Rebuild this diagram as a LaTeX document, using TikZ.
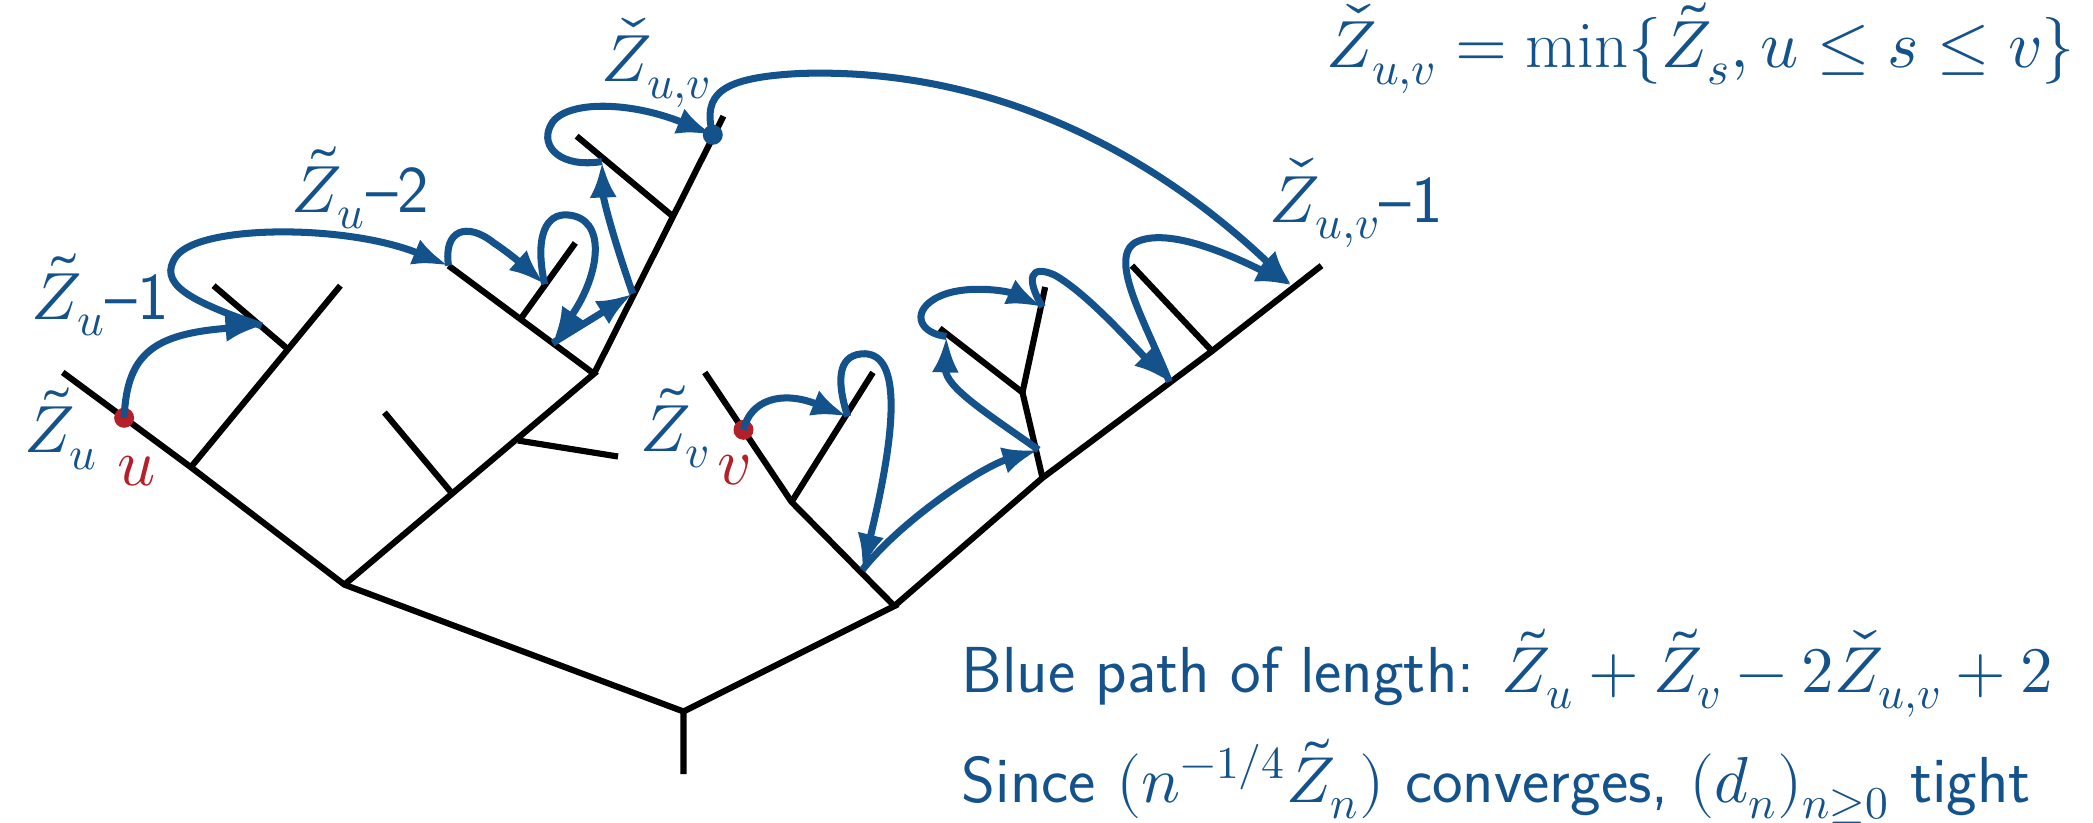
\documentclass[tikz,border=0pt]{standalone}
\usepackage{unicode-math}
\usetikzlibrary{arrows.meta}
\definecolor{zblue}{RGB}{20,82,140}
\definecolor{zred}{RGB}{180,32,40}
\tikzset{
  branch/.style={line width=1.75pt, black},
  walk/.style={line width=2pt, zblue, -{Latex[length=3.6mm,width=2.7mm]}},
  lbl/.style={text=zblue, inner sep=0pt, font=\fontsize{19}{23}\selectfont},
  txt/.style={text=zblue, inner sep=0pt, anchor=base west, font=\fontsize{18.5}{22}\selectfont\sffamily},
  site/.style={circle, inner sep=0pt, minimum size=2mm}
}

\begin{document}
\begin{tikzpicture}[x={(0.13348mm,0)}, y={(0,-0.13348mm)}]
\useasboundingbox (0,0) rectangle (1568,616);

% Tree points
\coordinate (rb) at (512,580);
\coordinate (R) at (512,533);
\coordinate (A) at (258,438);
\coordinate (B) at (670,454);
\coordinate (C) at (143,350);
\coordinate (cl) at (47,279);
\coordinate (cr) at (255,214);
\coordinate (D) at (215,261);
\coordinate (dl) at (160,214);
\coordinate (H1) at (339,370);
\coordinate (h1) at (288,309);
\coordinate (H2) at (388,330);
\coordinate (h2) at (463,342);
\coordinate (E) at (445,280);
\coordinate (el) at (336,199);
\coordinate (J) at (390,239);
\coordinate (jr) at (431,182);
\coordinate (F) at (542,87);
\coordinate (K) at (504,162);
\coordinate (kl) at (432,102);
\coordinate (G) at (593,376);
\coordinate (gl) at (528,279);
\coordinate (gr) at (654,279);
\coordinate (M) at (781,358);
\coordinate (N) at (908,263);
\coordinate (T) at (990,199);
\coordinate (O) at (766,294);
\coordinate (ol) at (704,246);
\coordinate (or) at (783,215);
\coordinate (nl) at (848,199);

% Tree
\draw[branch] (rb) -- (R) -- (A) -- (C) -- (cl);
\draw[branch] (R) -- (B) -- (G) -- (gl);
\draw[branch] (C) -- (cr);
\draw[branch] (D) -- (dl);
\draw[branch] (A) -- (E) -- (el);
\draw[branch] (H1) -- (h1);
\draw[branch] (H2) -- (h2);
\draw[branch] (J) -- (jr);
\draw[branch] (E) -- (F);
\draw[branch] (K) -- (kl);
\draw[branch] (G) -- (gr);
\draw[branch] (B) -- (M) -- (N) -- (T);
\draw[branch] (M) -- (O) -- (ol);
\draw[branch] (O) -- (or);
\draw[branch] (N) -- (nl);

% Sites
\node[site, fill=zred] (u) at (93,313) {};
\node[site, fill=zred] (v) at (557,322) {};
\node[site, fill=zblue] (uv) at (534,101) {};

% Stops of the walk
\coordinate (s1) at (196,244);
\coordinate (s2) at (336,199);
\coordinate (s3) at (408,213);
\coordinate (s4) at (414,257);
\coordinate (s5) at (474,220);
\coordinate (s6) at (451,121);
\coordinate (s7) at (968,214);
\coordinate (w1) at (635,312);
\coordinate (w2) at (646,427);
\coordinate (w3) at (778,337);
\coordinate (w4) at (709,252);
\coordinate (w5) at (781,230);
\coordinate (w6) at (876,286);

% Walk from u
\draw[walk] (u.center) .. controls (95,265) and (115,250) .. (s1);
\draw[walk] (s1) .. controls (140,225) and (118,212) .. (132,192) .. controls (150,168) and (260,168) .. (s2);
\draw[walk] (s2) .. controls (332,172) and (350,166) .. (370,182) .. controls (385,192) and (398,204) .. (s3);
\draw[walk] (s3) .. controls (400,175) and (410,160) .. (425,161) .. controls (455,163) and (450,205) .. (s4);
\draw[walk] (s4) -- (s5);
\draw[walk] (s5) .. controls (460,180) and (452,150) .. (s6);
\draw[walk] (s6) .. controls (420,126) and (405,110) .. (412,95) .. controls (420,75) and (470,75) .. (uv.center);
\draw[walk] (uv.center) .. controls (526,70) and (540,58) .. (600,55) .. controls (760,50) and (880,130) .. (s7);

% Walk from v
\draw[walk] (v.center) .. controls (562,300) and (585,292) .. (w1);
\draw[walk] (w1) .. controls (625,280) and (630,265) .. (648,265) .. controls (675,266) and (672,320) .. (w2);
\draw[walk] (w2) .. controls (675,390) and (735,350) .. (w3);
\draw[walk] (w3) .. controls (740,310) and (708,290) .. (w4);
\draw[walk] (w4) .. controls (690,250) and (682,235) .. (700,224) .. controls (720,212) and (755,218) .. (w5);
\draw[walk] (w5) .. controls (768,208) and (772,198) .. (790,206) .. controls (815,220) and (850,260) .. (w6);
\draw[walk] (w6) .. controls (860,245) and (830,195) .. (850,182) .. controls (875,168) and (930,195) .. (s7);

% Labels
\node[lbl] (lZu) at (46,321) {$\tilde Z_u$};
\node[lbl, text=zred] (lu) at (102,353) {$u$};
\node[lbl] (lZu1) at (75,221) {$\tilde Z_u$\textsf{--1}};
\node[lbl] (lZu2) at (270,141) {$\tilde Z_u$\textsf{--2}};
\node[lbl] (lZuv) at (492,47) {$\check Z_{u,v}$};
\node[lbl] (lZuv1) at (1016,152) {$\check Z_{u,v}$\textsf{--1}};
\node[lbl] (lZv) at (506,320) {$\tilde Z_v$};
\node[lbl, text=zred] (lv) at (550,352) {$v$};
\node[lbl] (lmin) at (1274,36) {$\check Z_{u,v}=\min\{\tilde Z_s, u\le s\le v\}$};
\node[txt] (lblue) at (720,519) {Blue path of length: $\tilde Z_u+\tilde Z_v-2\check Z_{u,v}+2$};
\node[txt] (lsince) at (720,601) {Since $(n^{-1/4}\tilde Z_n)$ converges, $(d_n)_{n\ge0}$ tight};
\end{tikzpicture}
\end{document}
